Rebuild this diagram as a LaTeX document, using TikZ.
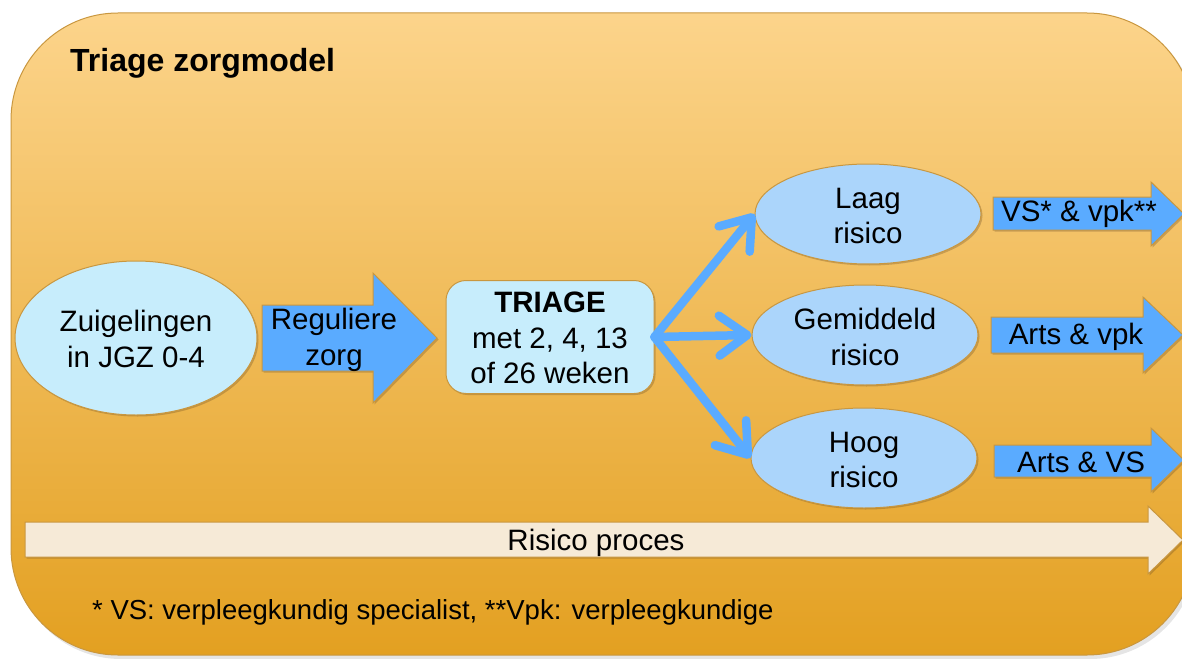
\documentclass[tikz,border=0pt]{standalone}
\usepackage{fontspec}
\setmainfont{Liberation Sans}
\usetikzlibrary{shapes.geometric,arrows.meta,shadows}
\definecolor{boxtop}{HTML}{FCD48B}
\definecolor{boxbot}{HTML}{E3A021}
\definecolor{gold}{HTML}{C9973F}
\definecolor{cyanfill}{HTML}{C7EDFC}
\definecolor{riskfill}{HTML}{ABD5FB}
\definecolor{bluearrow}{HTML}{5AABFF}
\definecolor{cream}{HTML}{F6EAD7}
\tikzset{
  lbl/.style={font=\fontsize{29.5}{35.5}\selectfont, align=center, inner sep=0pt, text=black},
  sshadow/.style={drop shadow={shadow xshift=1.5pt, shadow yshift=-1.5pt, opacity=0.25, fill=black!60!brown}},
  startell/.style={ellipse, draw=gold, line width=1pt, fill=cyanfill, sshadow, minimum width=242pt, minimum height=154pt, inner sep=0pt},
  riskell/.style={ellipse, draw=gold, line width=1pt, fill=riskfill, sshadow, minimum width=226pt, minimum height=100pt, inner sep=0pt},
  triagebox/.style={rectangle, rounded corners=20pt, draw=gold, line width=1pt, fill=cyanfill, sshadow, minimum width=208pt, minimum height=113pt, inner sep=0pt},
  blockarrow/.style={draw=gold, line width=1pt, fill=bluearrow, sshadow},
  creamarrow/.style={draw=gold, line width=1pt, fill=cream, sshadow},
  fan/.style={draw=bluearrow, line width=8.5pt, line cap=round, line join=round, -{Straight Barb[length=28pt, width=40pt, line width=8.5pt, line cap=round, line join=round]}}
}
\begin{document}
\begin{tikzpicture}[x=1pt,y=-1pt]
\useasboundingbox (0,0) rectangle (1182,658);
\clip (0,0) rectangle (1182,658);
% background panel
\fill[black, opacity=0.1, rounded corners=107pt] (14,16) rectangle (1197,659);
\shade[top color=boxtop, bottom color=boxbot, draw=gold, line width=1pt, rounded corners=107pt] (11,13) rectangle (1194,655);
\node[anchor=base west, inner sep=0pt, font=\fontsize{32}{37}\selectfont\bfseries] (title) at (70,72) {Triage zorgmodel};

% start ellipse
\node[startell] (start) at (136,338) {};
\node[lbl, font=\fontsize{29.5}{36}\selectfont] (startlbl) at (136,339) {Zuigelingen\\in JGZ 0-4};

% Reguliere zorg arrow
\path[blockarrow] (262,305) -- (373,305) -- (373,273) -- (437,338) -- (373,403) -- (373,371) -- (262,371) -- cycle;
\node[lbl, font=\fontsize{29.5}{36}\selectfont] (reg) at (334,340) {Reguliere\\zorg};

% Triage box
\node[triagebox] (triage) at (550,337) {};
\node[lbl, font=\fontsize{29.5}{35.5}\selectfont] (triagelbl) at (550,338) {\textbf{TRIAGE}\\met 2, 4, 13\\of 26 weken};

% risk ellipses
\node[riskell] (laag) at (868,214) {};
\node[lbl] (laaglbl) at (868,216) {Laag\\risico};
\node[riskell] (gem) at (865,335) {};
\node[lbl] (gemlbl) at (865,337) {Gemiddeld\\risico};
\node[riskell] (hoog) at (864,458) {};
\node[lbl] (hooglbl) at (864,460) {Hoog\\risico};

% fan arrows
\draw[fan] (triage.east) -- (laag.west);
\draw[fan] (triage.east) -- (gem.west);
\draw[fan] (triage.east) -- (hoog.west);

% right block arrows
\path[blockarrow] (993,197) -- (1151,197) -- (1151,182) -- (1184,214) -- (1151,246) -- (1151,230) -- (993,230) -- cycle;
\node[lbl] (vs) at (1079,214) {VS* \& vpk**};
\path[blockarrow] (991,317) -- (1143,317) -- (1143,297) -- (1183,335) -- (1143,373) -- (1143,353) -- (991,353) -- cycle;
\node[lbl] (av) at (1076,337) {Arts \& vpk};
\path[blockarrow] (994,445) -- (1151,445) -- (1151,428) -- (1184,460) -- (1151,492) -- (1151,477) -- (994,477) -- cycle;
\node[lbl] (avs) at (1081,462) {Arts \& VS};

% risico proces
\path[creamarrow] (25,522) -- (1148,522) -- (1148,506) -- (1183,540) -- (1148,574) -- (1148,557) -- (25,557) -- cycle;
\node[lbl] (proces) at (596,543) {Risico proces};

% footnote
\node[anchor=base west, inner sep=0pt, font=\fontsize{27.5}{32}\selectfont] (foot) at (92,619) {* VS: verpleegkundig specialist, **Vpk: verpleegkundige};
\end{tikzpicture}
\end{document}
